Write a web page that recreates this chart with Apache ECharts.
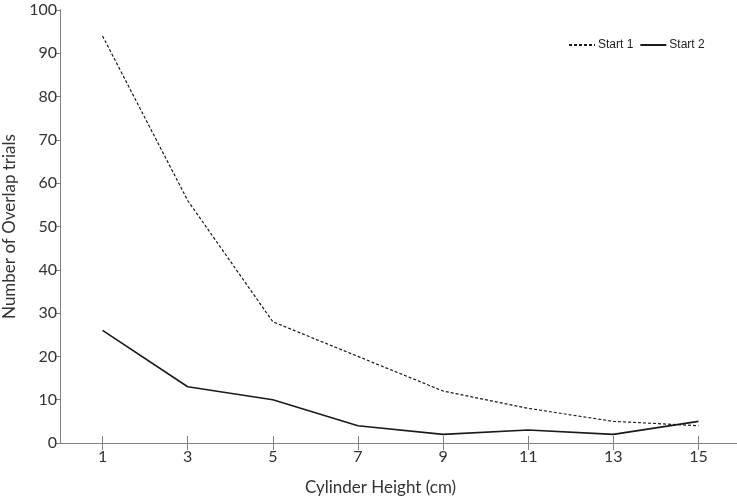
<!DOCTYPE html>
<html>
<head>
<meta charset="utf-8">
<script src="https://cdn.jsdelivr.net/npm/echarts@6/dist/echarts.min.js"></script>
<style>
  html, body { margin: 0; padding: 0; background: #fff; }
  #chart { width: 737px; height: 501px; }
</style>
</head>
<body>
<div id="chart"></div>
<script>
// cylinder heights (cm)
const heights = [1, 3, 5, 7, 9, 11, 13, 15];
const start1 = [94, 56, 28, 20, 12, 8, 5, 4];
const start2 = [26, 13, 10, 4, 2, 3, 2, 5];
const xTicks = [1, 3, 5, 7, 9, 11, 13, 15];

const axisColor = '#808080';
const lineColor = '#1a1a1a';
const labelFont = 'Lato, "Open Sans", sans-serif';

const chart = echarts.init(document.getElementById('chart'));

const pairs = (ys) => heights.map((h, i) => [h, ys[i]]);

const option = {
    animation: false,
    backgroundColor: '#fff',
    // the right edge of the frame runs a few px past the picture, as in the original
    grid: { left: 60, top: 10, width: 681, height: 433, outerBoundsMode: 'none', containLabel: false },
    legend: {
        left: 563,
        top: 34,
        itemWidth: 26,
        itemHeight: 2,
        itemGap: 6,
        itemStyle: { opacity: 0 },
        textStyle: {
            fontFamily: '"Liberation Sans Narrow", "Liberation Sans", sans-serif',
            fontSize: 12,
            color: '#222',
            padding: [0, 0, 0, -2]
        },
        data: ['Start 1', 'Start 2']
    },
    xAxis: [
        {
            type: 'value',
            min: 0,
            max: 16,
            name: 'Cylinder Height (cm)',
            nameLocation: 'middle',
            nameGap: 36,
            nameTextStyle: { fontFamily: labelFont, fontSize: 17, color: '#333', padding: [0, 40, 0, 0] },
            axisLine: { show: true, lineStyle: { color: axisColor, width: 1 } },
            axisTick: { show: true, inside: true, length: 7, customValues: xTicks, lineStyle: { color: axisColor } },
            axisLabel: { customValues: xTicks, margin: 6, fontFamily: labelFont, fontSize: 16, color: '#333' },
            splitLine: { show: false }
        },
        {
            type: 'value',
            position: 'top',
            min: 0,
            max: 16,
            axisLine: { show: true, lineStyle: { color: axisColor, width: 1 } },
            axisTick: { show: true, inside: true, length: 7, customValues: xTicks, lineStyle: { color: axisColor } },
            axisLabel: { show: false },
            splitLine: { show: false }
        }
    ],
    yAxis: [
        {
            type: 'value',
            min: 0,
            max: 100,
            interval: 10,
            name: 'Number of Overlap trials',
            nameLocation: 'middle',
            nameGap: 32,
            nameTextStyle: { fontFamily: labelFont, fontSize: 17, color: '#333' },
            axisLine: { show: true, lineStyle: { color: axisColor, width: 1 } },
            axisTick: { show: true, length: 4, lineStyle: { color: axisColor } },
            axisLabel: { margin: 3, fontFamily: labelFont, fontSize: 16, color: '#333' },
            splitLine: { show: false }
        },
        {
            type: 'value',
            position: 'right',
            min: 0,
            max: 100,
            interval: 10,
            axisLine: { show: true, lineStyle: { color: axisColor, width: 1 } },
            axisTick: { show: true, inside: true, length: 5, lineStyle: { color: axisColor } },
            axisLabel: { show: false },
            splitLine: { show: false }
        }
    ],
    series: [
        {
            name: 'Start 1',
            type: 'line',
            symbol: 'none',
            data: pairs(start1),
            itemStyle: { color: lineColor },
            lineStyle: { color: lineColor, width: 1.2, type: [3, 2] }
        },
        {
            name: 'Start 2',
            type: 'line',
            symbol: 'none',
            data: pairs(start2),
            itemStyle: { color: lineColor },
            lineStyle: { color: lineColor, width: 1.6 }
        }
    ]
};

chart.setOption(option);
</script>
</body>
</html>
